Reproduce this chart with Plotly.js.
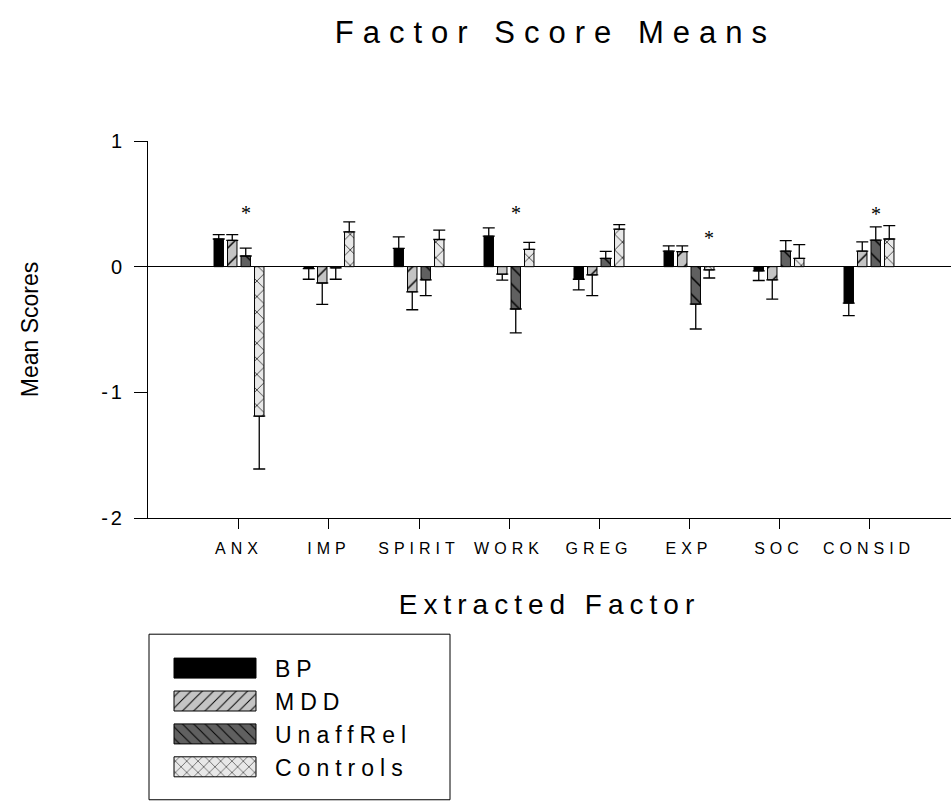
<!DOCTYPE html>
<html><head><meta charset="utf-8">
<script src="https://cdn.plot.ly/plotly-3.0.1.min.js"></script>
<style>
html,body{margin:0;padding:0;background:#fff;}
#chart{width:951px;height:803px;}
.gtitle{letter-spacing:9px;}
.xtitle{letter-spacing:6px;}
.xtick text{letter-spacing:5px;}
.ytick text{letter-spacing:3px;}
.legendtext{letter-spacing:6px;}
</style></head><body><div id="chart"></div>
<script>
const factors = ['ANX','IMP','SPIRIT','WORK','GREG','EXP','SOC','CONSID'];
const seriesNames = ['BP','MDD','UnaffRel','Controls'];
const bpMeans    = [0.22, -0.015, 0.145, 0.243, -0.10, 0.124, -0.034, -0.29];
const bpErr      = [0.035, 0.085, 0.092, 0.066, 0.085, 0.042, 0.076, 0.10];
const mddMeans   = [0.21, -0.13, -0.20, -0.06, -0.066, 0.119, -0.105, 0.124];
const mddErr     = [0.045, 0.17, 0.143, 0.047, 0.164, 0.047, 0.153, 0.074];
const unaffMeans = [0.085, -0.01, -0.105, -0.337, 0.066, -0.298, 0.124, 0.211];
const unaffErr   = [0.062, 0.09, 0.125, 0.19, 0.055, 0.198, 0.084, 0.106];
const ctrlMeans  = [-1.19, 0.277, 0.216, 0.138, 0.298, -0.026, 0.066, 0.22];
const ctrlErr    = [0.42, 0.079, 0.074, 0.055, 0.037, 0.064, 0.11, 0.107];
// y-axis ticks
const yTickVals  = [-2, -1, 0, 1];
const yTickText  = ['-2', '-1', '0', '1'];
// significance markers
const sigFactors = ['ANX','WORK','EXP','CONSID'];
const sigSeries  = ['UnaffRel','UnaffRel','Controls','UnaffRel'];
const sigLabelY  = [0.43, 0.43, 0.23, 0.42];

const means = [bpMeans, mddMeans, unaffMeans, ctrlMeans];
const errs = [bpErr, mddErr, unaffErr, ctrlErr];
const styles = [
  {color:'#000000'},
  {color:'#c4c4c4', pattern:{shape:'/', fgcolor:'#000', bgcolor:'#c4c4c4', size:12, solidity:0.12}},
  {color:'#606060', pattern:{shape:'\\', fgcolor:'#000', bgcolor:'#606060', size:12, solidity:0.12}},
  {color:'#e8e8e8', pattern:{shape:'x', fgcolor:'#000', bgcolor:'#e8e8e8', size:11, solidity:0.12}}
];

const traces = seriesNames.map((name, k) => ({
  type:'bar', name:name, x:factors, y:means[k],
  marker:Object.assign({line:{color:'#000', width:1}}, styles[k]),
  error_y:{type:'data', symmetric:false,
    array:means[k].map((v,i)=> v>=0 ? errs[k][i] : 0),
    arrayminus:means[k].map((v,i)=> v<0 ? errs[k][i] : 0),
    color:'#000', thickness:1.3, width:6},
  hoverinfo:'x+y+name'
}));

const PW = 803, PH = 378, PL = 148, PT = 140.5;
const px2x = p => (p - PL) / PW;
const px2y = p => (PT + PH - p) / PH;

const annotations = sigFactors.map((f, i) => ({
  x: factors.indexOf(f) + (seriesNames.indexOf(sigSeries[i]) - 1.5) * 0.15,
  y: sigLabelY[i], xref:'x', yref:'y', text:'*', showarrow:false,
  font:{family:'Liberation Serif, serif', size:20, color:'#000'}
}));

const layout = {
  width:951, height:803,
  margin:{l:PL, r:0, t:PT, b:803-PT-PH, autoexpand:false},
  paper_bgcolor:'#fff', plot_bgcolor:'#fff',
  font:{family:'Liberation Sans, Arial, sans-serif', color:'#000'},
  title:{text:'Factor Score Means', font:{size:31, color:'#000'}, xref:'container', x:0.584, xanchor:'center', yref:'container', y:0.960, yanchor:'middle'},
  barmode:'group', bargap:0.4, bargroupgap:0.3,
  showlegend:true,
  legend:{x:px2x(155), xanchor:'left', y:px2y(647.5), yanchor:'top', bgcolor:'rgba(0,0,0,0)', borderwidth:0, font:{size:23, color:'#000'}, itemwidth:110, traceorder:'normal'},
  xaxis:{type:'category', range:[-1.011, 7.911], showline:true, linecolor:'#000', linewidth:1, ticks:'outside', ticklen:10, tickcolor:'#000', tickwidth:1, showgrid:false, zeroline:false, automargin:false, tickfont:{size:16, color:'#000'}, ticklabelstandoff:6,
    title:{text:'Extracted Factor', font:{size:28, color:'#000'}, standoff:38}},
  yaxis:{range:[-2,1], tickmode:'array', tickvals:yTickVals, ticktext:yTickText, showline:true, linecolor:'#000', linewidth:1, ticks:'outside', ticklen:13, tickcolor:'#000', tickwidth:1, showgrid:false, zeroline:true, zerolinecolor:'#000', zerolinewidth:1, automargin:false, tickfont:{size:20, color:'#000'}, ticklabelstandoff:5,
    title:{text:'Mean Scores', font:{size:23, color:'#000'}, standoff:56}},
  shapes:[{type:'rect', xref:'paper', yref:'paper', x0:px2x(149), x1:px2x(450), y0:px2y(801), y1:px2y(635), line:{color:'#000', width:1}, fillcolor:'rgba(0,0,0,0)'}],
  annotations:annotations
};

Plotly.newPlot('chart', traces, layout, {displayModeBar:false, staticPlot:true}).then(() => {
  document.querySelectorAll('.legend .legendpoints path').forEach(p => {
    p.setAttribute('d', 'M41,10H-41V-10H41Z');
  });
});
</script></body></html>
